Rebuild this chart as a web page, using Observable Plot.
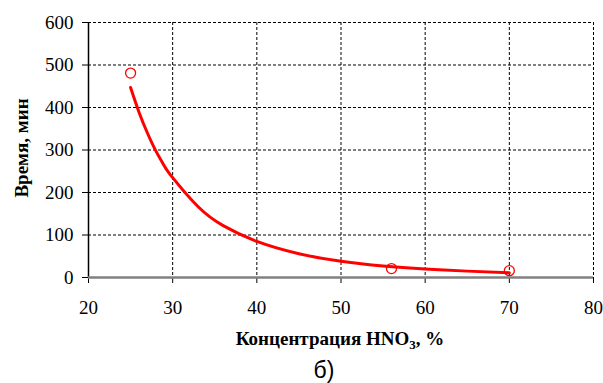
<!DOCTYPE html>
<html><head><meta charset="utf-8">
<script src="https://cdn.jsdelivr.net/npm/d3@7"></script>
<script src="https://cdn.jsdelivr.net/npm/@observablehq/plot@0.6"></script>
<style>body{margin:0;background:#fff}</style>
</head><body><div id="chart"></div>
<script>
// measured points
const pointX = [25, 56, 70];
const pointY = [481, 21, 16];
// fitted trend curve
const curveX = [25, 26, 27, 28, 29, 30, 33, 36, 40, 45, 50, 55, 60, 65, 70];
const curveY = [447, 389, 340, 298, 263, 235, 167, 122, 85, 56, 38, 27, 20, 15, 11];
const xTicks = [20, 30, 40, 50, 60, 70, 80];
const yTicks = [0, 100, 200, 300, 400, 500, 600];

const pts = pointX.map((x, i) => ({x, y: pointY[i]}));
const curve = curveX.map((x, i) => ({x, y: curveY[i]}));

const FF = "Liberation Serif";
const W = 603, H = 383;
const plot = Plot.plot({
  width: W, height: H,
  marginLeft: 88, marginRight: 10, marginTop: 22, marginBottom: 106,
  style: {fontFamily: FF, fontSize: "19px", color: "#000", background: "#fff"},
  x: {domain: [20, 80], ticks: xTicks, label: null},
  y: {domain: [0, 600], ticks: yTicks, label: null},
  marks: [
    Plot.ruleX(xTicks.filter(d => d > 20), {stroke: "#000", strokeDasharray: "3,2", strokeWidth: 1}),
    Plot.ruleY(yTicks.filter(d => d > 0), {stroke: "#000", strokeDasharray: "3,2", strokeWidth: 1}),
    Plot.axisX({ticks: xTicks, tickSize: 6, tickPadding: 17, stroke: "#000"}),
    Plot.axisY({ticks: yTicks, tickSize: 6, tickPadding: 9, stroke: "#000"}),
    Plot.ruleX([20], {stroke: "#000", strokeWidth: 1.5}),
    Plot.ruleY([0], {stroke: "#808080", strokeWidth: 2.5}),
    Plot.line(curve, {x: "x", y: "y", stroke: "#ff0000", strokeWidth: 3, curve: "natural"}),
    Plot.dot(pts, {x: "x", y: "y", r: 5, stroke: "#ff0000", strokeWidth: 1.3, fill: "none"})
  ]
});
document.getElementById("chart").append(plot);

const svg = d3.select(plot);
svg.selectAll("text").attr("font-family", FF).attr("font-size", 19);

// y title
svg.append("text")
  .attr("transform", "translate(28,148) rotate(-90)")
  .attr("text-anchor", "middle")
  .attr("font-family", FF).attr("font-weight", "bold").attr("font-size", 19)
  .text("Время, мин");
// x title with subscript
const xt = svg.append("text")
  .attr("x", 340).attr("y", 345)
  .attr("text-anchor", "middle")
  .attr("font-family", FF).attr("font-weight", "bold").attr("font-size", 19);
xt.append("tspan").text("Концентрация HNO");
xt.append("tspan").attr("font-size", 13).attr("dy", 4).text("3");
xt.append("tspan").attr("dy", -4).text(", %");
// panel label
svg.append("text")
  .attr("x", 324).attr("y", 378)
  .attr("text-anchor", "middle")
  .attr("font-family", "Liberation Sans").attr("font-size", 23)
  .text("б)");
</script></body></html>
